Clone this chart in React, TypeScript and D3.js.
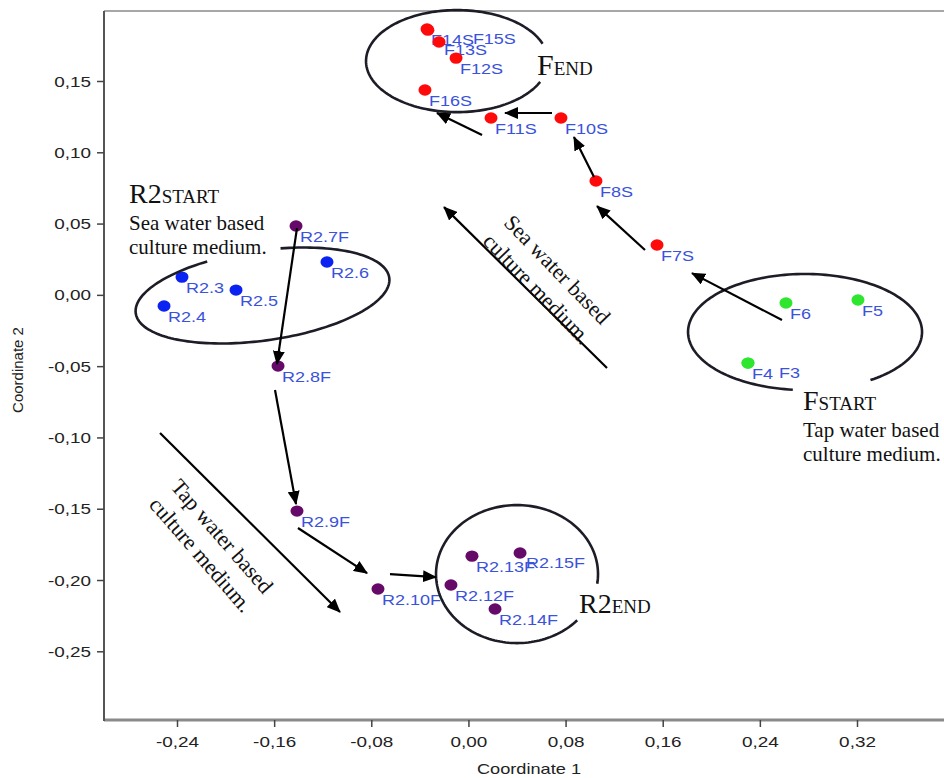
import React from 'react';
import * as d3 from 'd3';

// Axis tick values
const xTicks = [-0.24, -0.16, -0.08, 0, 0.08, 0.16, 0.24, 0.32];
const yTicks = [-0.25, -0.2, -0.15, -0.1, -0.05, 0, 0.05, 0.1, 0.15];

// F, tap water start
const fStartNames = ['F3', 'F4', 'F5', 'F6'];
const fStartC1 = [0.2298, 0.2298, 0.3204, 0.2611];
const fStartC2 = [-0.0475, -0.0475, -0.0033, -0.0054];

// F, sea water series
const fSeaNames = ['F7S', 'F8S', 'F10S', 'F11S', 'F12S', 'F13S', 'F14S', 'F15S', 'F16S'];
const fSeaC1 = [0.1549, 0.1046, 0.0758, 0.0182, -0.0106, -0.0246, -0.0345, -0.0338, -0.0362];
const fSeaC2 = [0.0353, 0.0802, 0.1244, 0.1244, 0.1664, 0.1777, 0.1868, 0.1860, 0.144];

// R2, sea water start
const r2StartNames = ['R2.3', 'R2.4', 'R2.5', 'R2.6'];
const r2StartC1 = [-0.2363, -0.2511, -0.1918, -0.1169];
const r2StartC2 = [0.0128, -0.0075, 0.0037, 0.0234];

// R2, tap water series
const r2TapNames = ['R2.7F', 'R2.8F', 'R2.9F', 'R2.10F', 'R2.12F', 'R2.13F', 'R2.14F', 'R2.15F'];
const r2TapC1 = [-0.1424, -0.1572, -0.1416, -0.0749, -0.0148, 0.0025, 0.0215, 0.0421];
const r2TapC2 = [0.0486, -0.0496, -0.1513, -0.206, -0.2032, -0.1829, -0.22, -0.1807];

// Trajectory arrows [c1 from, c2 from, c1 to, c2 to]
const arrowsC = [
  [0.2578, -0.0173, 0.1837, 0.0156],
  [0.145, 0.0318, 0.1055, 0.0626],
  [0.103, 0.083, 0.0865, 0.111],
  [0.0684, 0.1279, 0.0297, 0.1279],
  [0.0108, 0.1124, -0.0263, 0.1279],
  [0.1137, -0.051, -0.0205, 0.0619],
  [-0.1416, 0.0472, -0.1581, -0.0482],
  [-0.1597, -0.0664, -0.1424, -0.1464],
  [-0.1408, -0.1632, -0.0839, -0.1948],
  [-0.065, -0.1955, -0.0271, -0.1976],
  [-0.2544, -0.0966, -0.1062, -0.2221],
];

// Group outlines: centre in data units
const groupCentres = [
  [-0.0098, 0.1643],
  [0.2768, -0.0257],
  [-0.17, -0.0001],
  [0.0396, -0.1955],
];

const W = 944;
const H = 778;
const plot = { left: 104, right: 950, top: 11, bottom: 720 };

const x = d3.scaleLinear().domain([-0.24, 0.32]).range([177.5, 857.5]);
const y = d3.scaleLinear().domain([-0.25, 0.15]).range([651.8, 81.5]);
const fmt = (v: number) => d3.format('.2f')(v).replace('.', ',').replace('−', '-');

const outlineStyle = [
  { rx: 91, ry: 51, rot: 0, from: 24, to: 340 },
  { rx: 117, ry: 58, rot: 0, from: 96, to: 417 },
  { rx: 128, ry: 45, rot: -8, from: -79, to: 247 },
  { rx: 81, ry: 69, rot: 0, from: 42, to: 369 },
];

function arcPath(cx: number, cy: number, rx: number, ry: number, rot: number, from: number, to: number) {
  const r = (rot * Math.PI) / 180;
  const pts: [number, number][] = d3.range(from, to + 0.01, 2).map((a) => {
    const t = (a * Math.PI) / 180;
    const ex = rx * Math.cos(t);
    const ey = ry * Math.sin(t);
    return [cx + ex * Math.cos(r) - ey * Math.sin(r), cy + ex * Math.sin(r) + ey * Math.cos(r)];
  });
  return d3.line()(pts) || '';
}

type Pt = { name: string; c1: number; c2: number; color: string };
const zip = (names: string[], a: number[], b: number[], color: string): Pt[] =>
  names.map((n, i) => ({ name: n, c1: a[i], c2: b[i], color }));

const points: Pt[] = [
  ...zip(r2StartNames, r2StartC1, r2StartC2, '#0a22f2'),
  ...zip(r2TapNames, r2TapC1, r2TapC2, '#660a6a'),
  ...zip(fStartNames, fStartC1, fStartC2, '#2fe62f'),
  ...zip(fSeaNames, fSeaC1, fSeaC2, '#ff0a0a'),
];

// Label placement tweaks for overlapping samples
const labelShift: Record<string, [number, number]> = {
  F15S: [45, 14],
  F3: [31, 15],
  F13S: [5, 13],
  'R2.15F': [6, 15],
};

const SANS = "'Liberation Sans', Arial, sans-serif";
const SERIF = "'Liberation Serif', 'Times New Roman', serif";

function SText(props: { x: number; y: number; sx?: number; anchor?: string; size: number; fill: string; children: React.ReactNode }) {
  const { x: px, y: py, sx = 1, anchor = 'start', size, fill, children } = props;
  return (
    <text transform={`translate(${px},${py}) scale(${sx},1)`} textAnchor={anchor as any} fontSize={size} fill={fill} fontFamily={SANS}>
      {children}
    </text>
  );
}

function GroupTitle({ px, py, main, sub, big = 28, small = 19 }: { px: number; py: number; main: string; sub: string; big?: number; small?: number }) {
  return (
    <text x={px} y={py} fontFamily={SERIF} fill="#111">
      <tspan fontSize={big}>{main}</tspan>
      <tspan fontSize={small}>{sub}</tspan>
    </text>
  );
}

export default function App() {
  return (
    <svg width={W} height={H} style={{ position: 'absolute', left: 0, top: 0, background: '#fff' }}>
      <defs>
        <marker id="head" viewBox="0 0 14 12" refX="13" refY="6" markerWidth="14" markerHeight="12" markerUnits="userSpaceOnUse" orient="auto">
          <path d="M0,0 L14,6 L0,12 z" fill="#000" />
        </marker>
      </defs>
      <rect x={0} y={0} width={W} height={H} fill="#fff" />

      {/* frame */}
      <line x1={plot.left} x2={plot.right} y1={plot.top} y2={plot.top} stroke="#8a8a8a" strokeWidth={1.6} />
      <line x1={plot.left} x2={plot.right} y1={plot.bottom} y2={plot.bottom} stroke="#8a8a8a" strokeWidth={3} />
      <line x1={plot.left} x2={plot.left} y1={plot.top} y2={plot.bottom + 1} stroke="#555" strokeWidth={2} />

      {/* y axis */}
      {yTicks.map((t) => (
        <g key={'y' + t}>
          <line x1={plot.left - 7} x2={plot.left} y1={y(t)} y2={y(t)} stroke="#444" strokeWidth={1.5} />
          <SText x={91} y={y(t) + 5} sx={1.35} anchor="end" size={14} fill="#222">
            {fmt(t)}
          </SText>
        </g>
      ))}
      {/* x axis */}
      {xTicks.map((t) => (
        <g key={'x' + t}>
          <line x1={x(t)} x2={x(t)} y1={plot.bottom} y2={plot.bottom + 7} stroke="#444" strokeWidth={1.5} />
          <SText x={x(t)} y={747} sx={1.35} anchor="middle" size={14} fill="#222">
            {fmt(t)}
          </SText>
        </g>
      ))}
      <SText x={529} y={774} sx={1.3} anchor="middle" size={14} fill="#222">
        Coordinate 1
      </SText>
      <text transform="translate(23,370) rotate(-90)" textAnchor="middle" fontSize={15} fontFamily={SANS} fill="#222">
        Coordinate 2
      </text>

      {/* sample labels */}
      {points.map((p) => {
        const [dx, dy] = labelShift[p.name] || [4, 16];
        return (
          <SText key={'l' + p.name} x={x(p.c1) + dx} y={y(p.c2) + dy} sx={1.2} size={15} fill="#3a52dc">
            {p.name}
          </SText>
        );
      })}
      {/* sample points */}
      {points.map((p) => (
        <ellipse key={'p' + p.name} cx={x(p.c1)} cy={y(p.c2)} rx={6.5} ry={5.7} fill={p.color} />
      ))}

      {/* group outlines */}
      {groupCentres.map((c, i) => {
        const s = outlineStyle[i];
        return (
          <path key={'e' + i} d={arcPath(x(c[0]), y(c[1]), s.rx, s.ry, s.rot, s.from, s.to)} fill="none" stroke="#1d1d28" strokeWidth={2.6} />
        );
      })}

      {/* trajectory arrows */}
      {arrowsC.map((a, i) => (
        <line key={'a' + i} x1={x(a[0])} y1={y(a[1])} x2={x(a[2])} y2={y(a[3])} stroke="#000" strokeWidth={2.2} markerEnd="url(#head)" />
      ))}

      {/* group titles */}
      <GroupTitle px={129} py={203} main="R2" sub="START" />
      <text x={129} y={230} fontFamily={SERIF} fontSize={21} fill="#111">Sea water based</text>
      <text x={129} y={254} fontFamily={SERIF} fontSize={21} fill="#111">culture medium.</text>

      <GroupTitle px={537} py={75} main="F" sub="END" big={30} />
      <GroupTitle px={803} py={410} main="F" sub="START" />
      <text x={803} y={437} fontFamily={SERIF} fontSize={21} fill="#111">Tap water based</text>
      <text x={803} y={461} fontFamily={SERIF} fontSize={21} fill="#111">culture medium.</text>
      <GroupTitle px={579} py={613} main="R2" sub="END" />

      {/* medium annotations along the diagonal arrows */}
      <g transform="translate(562,265) rotate(46)" fontFamily={SERIF} fontSize={22} fill="#111" textAnchor="middle">
        <text x={0} y={14}>Sea water based</text>
        <text x={0} y={42}>culture medium.</text>
      </g>
      <g transform="translate(227,532) rotate(49)" fontFamily={SERIF} fontSize={22} fill="#111" textAnchor="middle">
        <text x={0} y={14}>Tap water based</text>
        <text x={0} y={42}>culture medium.</text>
      </g>
    </svg>
  );
}
